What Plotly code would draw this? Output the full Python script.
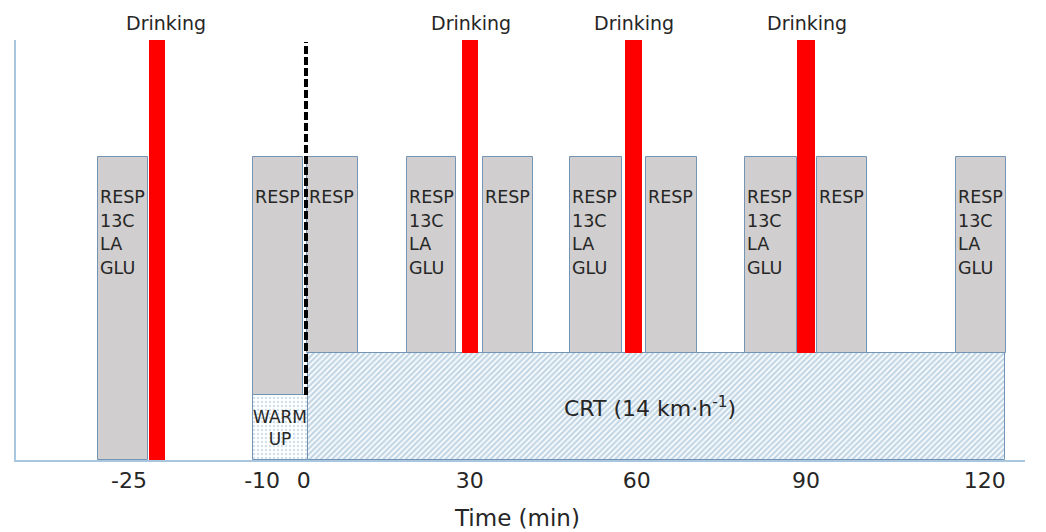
import plotly.graph_objects as go

# ---------------- data (schematic protocol timeline, minutes) ----------------
resp_start = [-37.5, -9.5, 0.2, 18.2, 31.9, 47.6, 61.3, 79.1, 92.1, 117.1]
resp_end = [-28.5, -0.5, 9.4, 27.0, 40.9, 56.9, 70.5, 88.5, 101.1, 126.1]
resp_bottom = [0.0, 0.65, 1.07, 1.07, 1.07, 1.07, 1.07, 1.07, 1.07, 1.07]
resp_top = [3.03] * 10
resp_labels = [
    ["RESP", "13C", "LA", "GLU"], ["RESP"], ["RESP"],
    ["RESP", "13C", "LA", "GLU"], ["RESP"],
    ["RESP", "13C", "LA", "GLU"], ["RESP"],
    ["RESP", "13C", "LA", "GLU"], ["RESP"],
    ["RESP", "13C", "LA", "GLU"],
]

drink_start = [-28.3, 28.1, 57.5, 88.5]
drink_end = [-25.4, 31.0, 60.5, 91.7]
drink_bottom = [0.0, 1.07, 1.07, 1.07]
drink_top = [4.2, 4.2, 4.2, 4.2]
drink_label = "Drinking"

crt_start, crt_end, crt_top = 0.3, 125.9, 1.07
crt_label = "CRT (14 km·h<sup>-1</sup>)"
warm_start, warm_end, warm_top = -9.5, 0.3, 0.65
warm_label = "WARM<br>UP"

start_line_x = [0, 0]
start_line_y = [0.65, 4.18]

tick_pos = [-31.9, -7.9, -0.4, 29.5, 59.6, 90.1, 122.3]
tick_text = ["-25", "-10", "0", "30", "60", "90", "120"]
x_title = "Time (min)"

# ---------------- styles ----------------
FONT = "DejaVu Sans"
TXT = "#262626"
EDGE = "#7394b4"
AXIS = "#a9c6df"
GRAY = "#d0cece"

fig = go.Figure()

def bar(starts, ends, bottoms, tops, **kw):
    return go.Bar(
        x=[(s + e) / 2 for s, e in zip(starts, ends)],
        width=[e - s for s, e in zip(starts, ends)],
        base=bottoms,
        y=[t - b for t, b in zip(tops, bottoms)],
        hoverinfo="skip", showlegend=False, **kw)

# CRT hatched block
fig.add_trace(bar([crt_start], [crt_end], [0], [crt_top],
                  marker=dict(color="white",
                              line=dict(color=EDGE, width=1),
                              pattern=dict(shape="/", fgcolor="#86aecb",
                                           bgcolor="white", size=4, solidity=0.6))))
# warm-up dotted block
fig.add_trace(bar([warm_start], [warm_end], [0], [warm_top],
                  marker=dict(color="white",
                              line=dict(color=EDGE, width=1),
                              pattern=dict(shape=".", fgcolor="#9dbdd6",
                                           bgcolor="white", size=4, solidity=0.3))))
# measurement boxes
fig.add_trace(bar(resp_start, resp_end, resp_bottom, resp_top,
                  marker=dict(color=GRAY, line=dict(color=EDGE, width=1))))
# drinking bars
fig.add_trace(bar(drink_start, drink_end, drink_bottom, drink_top,
                  marker=dict(color="#ff0000", line=dict(width=0))))
# dashed start line
fig.add_trace(go.Scatter(x=start_line_x, y=start_line_y, mode="lines",
                         line=dict(color="black", width=4, dash="8px,3px"),
                         hoverinfo="skip", showlegend=False))

ann = []
for s, top, lines in zip(resp_start, resp_top, resp_labels):
    for i, ln in enumerate(lines):
        ann.append(dict(x=s, y=top, xref="x", yref="y", text=ln, showarrow=False,
                        xanchor="left", yanchor="middle", xshift=0,
                        yshift=-(40 + 23.7 * i),
                        font=dict(family=FONT, size=17.5, color=TXT)))
for i, (s, e, t) in enumerate(zip(drink_start, drink_end, drink_top)):
    ann.append(dict(x=(s + e) / 2, y=t, xref="x", yref="y", text=drink_label,
                    showarrow=False, xanchor="center", yanchor="bottom",
                    xshift=9 if i == 0 else 1, yshift=4,
                    font=dict(family=FONT, size=19, color=TXT)))
ann.append(dict(x=(crt_start + crt_end) / 2, y=crt_top / 2, xref="x", yref="y",
                text=crt_label, showarrow=False, xanchor="center", yanchor="middle",
                xshift=-6, yshift=0,
                font=dict(family=FONT, size=22, color=TXT)))
ann.append(dict(x=(warm_start + warm_end) / 2, y=warm_top / 2, xref="x", yref="y",
                text=warm_label, showarrow=False, xanchor="center", yanchor="middle",
                font=dict(family=FONT, size=17, color=TXT)))

# the page body adds an 8px offset, so the figure is 8px smaller than the window
fig.update_layout(
    width=1038, height=524,
    margin=dict(l=8, r=21, t=32, b=72),
    paper_bgcolor="white", plot_bgcolor="white",
    barmode="overlay", bargap=0,
    annotations=ann,
    xaxis=dict(range=[-52.25, 129.55], showgrid=False, zeroline=False,
               showline=True, linecolor=AXIS, linewidth=1.5,
               tickmode="array", tickvals=tick_pos, ticktext=tick_text,
               ticks="", ticklabelstandoff=0,
               tickfont=dict(family=FONT, size=22, color=TXT)),
    yaxis=dict(range=[0, 4.2], showgrid=False, zeroline=False,
               showline=True, linecolor=AXIS, linewidth=1.5,
               showticklabels=False, ticks=""),
)
fig.add_annotation(x=0.5, y=0, xref="paper", yref="paper", text=x_title,
                   showarrow=False, xanchor="center", yanchor="middle",
                   xshift=-4, yshift=-58,
                   font=dict(family=FONT, size=23, color=TXT))

fig.write_html("out.html")
